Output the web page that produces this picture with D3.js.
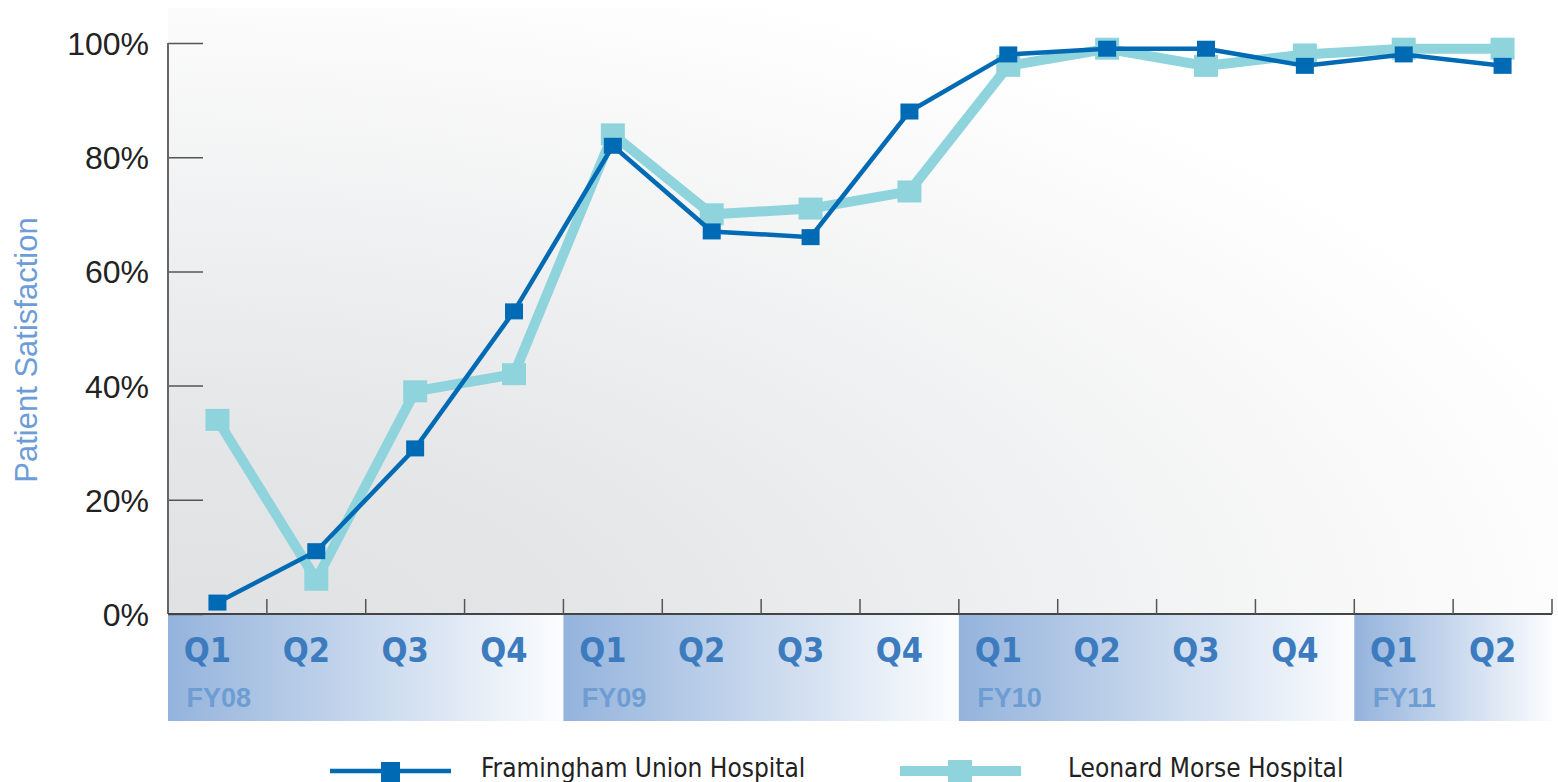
<!DOCTYPE html>
<html><head><meta charset="utf-8">
<script src="https://cdn.jsdelivr.net/npm/d3@7"></script>
<style>
html,body{margin:0;padding:0;background:#fff;}
svg{display:block;}
.narrow{font-family:"Liberation Sans Narrow","DejaVu Sans Condensed",sans-serif;font-stretch:condensed;}
</style></head>
<body>
<script>
const quarters = ["Q1","Q2","Q3","Q4","Q1","Q2","Q3","Q4","Q1","Q2","Q3","Q4","Q1","Q2"];
const fiscalYears = ["FY08","FY09","FY10","FY11"];
const fyQuarterCounts = [4,4,4,2];
const framingham = [2,11,29,53,82,67,66,88,98,99,99,96,98,96];
const leonard = [34,6,39,42,84,70,71,74,96,99,96,98,99,99];
const yTicks = [0,20,40,60,80,100];
const seriesNames = ["Framingham Union Hospital","Leonard Morse Hospital"];

const W = 1558, H = 782;
const mLeft = 168, mRight = 1552, mTop = 43, mBottom = 614;
const svg = d3.select("body").append("svg").attr("width",W).attr("height",H);
const defs = svg.append("defs");

const bg = defs.append("radialGradient").attr("id","bg").attr("gradientUnits","userSpaceOnUse")
  .attr("cx",0).attr("cy",0).attr("r",1)
  .attr("gradientTransform","translate(168,640) scale(1500,700)");
bg.append("stop").attr("offset","0").attr("stop-color","#e0e1e3");
bg.append("stop").attr("offset","0.3").attr("stop-color","#e5e6e8");
bg.append("stop").attr("offset","1").attr("stop-color","#ffffff");

const boxG = defs.append("linearGradient").attr("id","box").attr("x1","0").attr("x2","1").attr("y1","0").attr("y2","0");
boxG.append("stop").attr("offset","0").attr("stop-color","#94b3dc");
boxG.append("stop").attr("offset","1").attr("stop-color","#fcfdfe");

const x = d3.scaleBand().domain(d3.range(quarters.length)).range([mLeft,mRight]);
const y = d3.scaleLinear().domain([0,100]).range([mBottom,mTop]);

// background
svg.append("rect").attr("x",mLeft).attr("y",8).attr("width",W-mLeft).attr("height",mBottom-8).attr("fill","url(#bg)");

// FY boxes
let start = 0;
fiscalYears.forEach((fy,i)=>{
  const n = fyQuarterCounts[i];
  const x0 = x(start), x1 = x(start+n-1)+x.bandwidth();
  svg.append("rect").attr("x",x0).attr("y",mBottom).attr("width",x1-x0).attr("height",107).attr("fill","url(#box)");
  svg.append("text").attr("x",x(start)+x.bandwidth()/2-31).attr("y",707)
    .attr("font-family","'Liberation Sans',Arial,sans-serif")
    .attr("font-size",27).attr("font-weight","bold").attr("fill","#6d9dd3").text(fy);
  start += n;
});
// quarter labels
svg.append("g").selectAll("text").data(quarters).join("text").attr("class","narrow")
  .attr("x",(d,i)=>x(i)+x.bandwidth()/2-10).attr("y",662).attr("text-anchor","middle")
  .attr("font-size",34).attr("font-weight","bold").attr("fill","#3d7bbf").text(d=>d);

// y axis
const yAxis = d3.axisRight(y).tickValues(yTicks).tickSize(35).tickFormat("");
const ya = svg.append("g").attr("transform",`translate(${mLeft},0)`).call(yAxis);
ya.select(".domain").remove();
ya.selectAll("line").attr("stroke","#555").attr("stroke-width",1.5);
svg.append("line").attr("x1",mLeft).attr("x2",mLeft).attr("y1",mTop).attr("y2",mBottom).attr("stroke","#666").attr("stroke-width",2);
svg.append("g").selectAll("text").data(yTicks).join("text")
  .attr("x",149).attr("y",d=>y(d)+12).attr("text-anchor","end")
  .attr("font-family","'Liberation Sans',Arial,sans-serif").attr("font-size",32).attr("fill","#222")
  .text(d=>d+"%");

// x axis
svg.append("line").attr("x1",mLeft).attr("x2",mRight).attr("y1",mBottom).attr("y2",mBottom).attr("stroke","#444").attr("stroke-width",2);
svg.append("g").selectAll("line").data(d3.range(1,quarters.length+1)).join("line")
  .attr("x1",d=>x(d)||mRight).attr("x2",d=>x(d)||mRight).attr("y1",mBottom).attr("y2",mBottom-15)
  .attr("stroke","#555").attr("stroke-width",1.5);

// axis title
svg.append("text").attr("transform","translate(37,350) rotate(-90)").attr("text-anchor","middle")
  .attr("font-family","'Liberation Sans',Arial,sans-serif").attr("font-size",31).attr("fill","#6d9dd8")
  .text("Patient Satisfaction");

const cx = i => x(i)+x.bandwidth()/2;
const line = d3.line().x((d,i)=>cx(i)).y(d=>y(d));
// Leonard
svg.append("path").datum(leonard).attr("d",line).attr("fill","none").attr("stroke","#8fd4dc").attr("stroke-width",10).attr("stroke-linejoin","miter");
svg.append("g").selectAll("rect").data(leonard).join("rect")
  .attr("x",(d,i)=>cx(i)-12).attr("y",d=>y(d)-11).attr("width",24).attr("height",22).attr("fill","#8fd4dc");
// Framingham
svg.append("path").datum(framingham).attr("d",line).attr("fill","none").attr("stroke","#006ab5").attr("stroke-width",4.5);
svg.append("g").selectAll("rect").data(framingham).join("rect")
  .attr("x",(d,i)=>cx(i)-9).attr("y",d=>y(d)-8).attr("width",18).attr("height",16).attr("fill","#006ab5");

// legend
const lg = svg.append("g");
lg.append("line").attr("x1",330).attr("x2",451).attr("y1",771).attr("y2",771).attr("stroke","#006ab5").attr("stroke-width",4.5);
lg.append("rect").attr("x",381).attr("y",762).attr("width",19).attr("height",20).attr("fill","#006ab5");
lg.append("text").attr("class","narrow").attr("x",481).attr("y",777).attr("font-size",26).attr("fill","#222").text(seriesNames[0]);
lg.append("line").attr("x1",900).attr("x2",1021).attr("y1",771).attr("y2",771).attr("stroke","#8fd4dc").attr("stroke-width",10);
lg.append("rect").attr("x",948).attr("y",760).attr("width",24).attr("height",22).attr("fill","#8fd4dc");
lg.append("text").attr("class","narrow").attr("x",1068).attr("y",777).attr("font-size",26).attr("fill","#222").text(seriesNames[1]);
</script>
</body></html>
